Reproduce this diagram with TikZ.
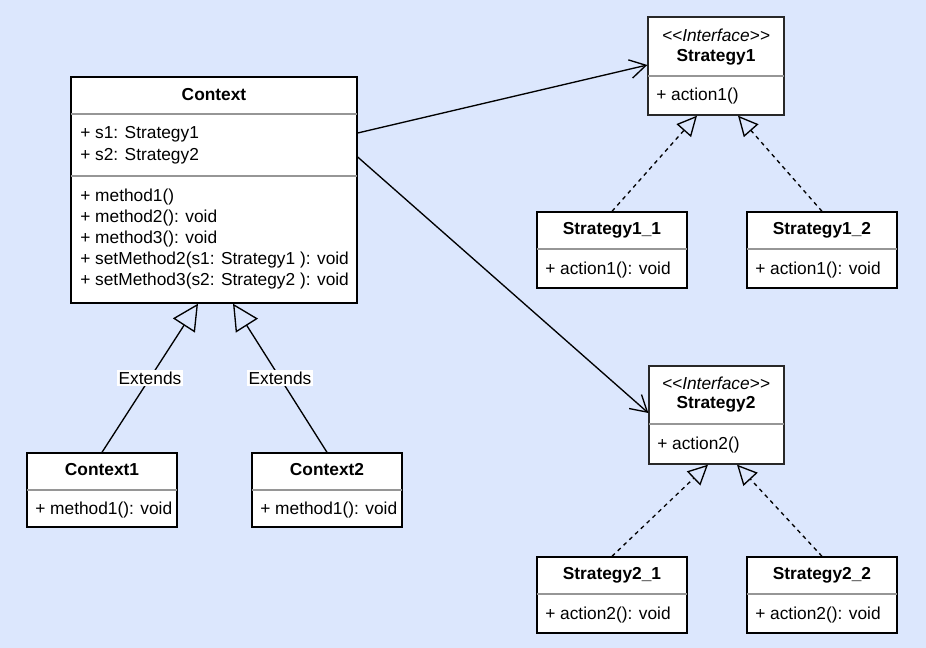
\documentclass[tikz,border=0pt]{standalone}
\usepackage{fontspec}
\setmainfont{Liberation Sans}
\usetikzlibrary{arrows.meta,fit}
\definecolor{bgblue}{RGB}{220,231,253}
\definecolor{divgray}{RGB}{150,150,150}
\definecolor{ifborder}{RGB}{40,40,40}
\begin{document}
\begin{tikzpicture}[x=0.75pt,y=-0.75pt,
  box/.style={draw=black, fill=white, line width=1pt, inner sep=0pt},
  ifbox/.style={box, draw=ifborder},
  div/.style={draw=divgray, line width=0.8pt},
  txt/.style={anchor=west, inner sep=0pt, font=\fontsize{13}{15}\selectfont},
  ttl/.style={inner sep=0pt, font=\fontsize{13}{15}\selectfont\bfseries},
  ster/.style={inner sep=0pt, font=\fontsize{13}{15}\selectfont\itshape},
  assoc/.style={draw=black, line width=1pt, -{Straight Barb[length=12pt,width=14pt,line width=1pt]}},
  gen/.style={draw=black, line width=1pt, -{Triangle[open,length=19.5pt,width=19.5pt,line width=1pt]}},
  real/.style={draw=black, line width=1pt, dash pattern=on 3pt off 3pt, -{Triangle[open,length=15pt,width=14.5pt,line width=1pt]}},
  lbl/.style={fill=white, inner sep=1pt, font=\fontsize{13}{15}\selectfont}
]
\useasboundingbox (0,0) rectangle (926,648);
\fill[bgblue] (0,0) rectangle (926,648);

% Context
\node[box, fit={(71,77) (357,303)}] (ctx) {};
\draw[div] (71,114) -- (357,114);
\draw[div] (71,176) -- (357,176);
\node[ttl] (ctxt) at (214,95) {Context};
\node[txt] (ctxa1) at (80,134) {+ s1: Strategy1};
\node[txt] (ctxa2) at (80,156) {+ s2: Strategy2};
\node[txt] (ctxm1) at (80,197) {+ method1()};
\node[txt] (ctxm2) at (80,218) {+ method2(): void};
\node[txt] (ctxm3) at (80,239) {+ method3(): void};
\node[txt] (ctxm4) at (80,260) {+ setMethod2(s1: Strategy1 ): void};
\node[txt] (ctxm5) at (80,281) {+ setMethod3(s2: Strategy2 ): void};

% Context1
\node[box, fit={(27,453) (177,527)}] (c1) {};
\draw[div] (27,490) -- (177,490);
\node[ttl] (c1t) at (102,470) {Context1};
\node[txt] (c1m) at (35,510) {+ method1(): void};

% Context2
\node[box, fit={(252,453) (402,527)}] (c2) {};
\draw[div] (252,490) -- (402,490);
\node[ttl] (c2t) at (327,470) {Context2};
\node[txt] (c2m) at (260,510) {+ method1(): void};

% Strategy1
\node[ifbox, fit={(648,17) (784,115)}] (s1) {};
\draw[div] (648,76) -- (784,76);
\node[ster] (s1s) at (716,35) {{<}{<}Interface{>}{>}};
\node[ttl] (s1t) at (716,57) {Strategy1};
\node[txt] (s1m) at (656,96) {+ action1()};

% Strategy1_1
\node[box, fit={(537,212) (687,288)}] (s11) {};
\draw[div] (537,249) -- (687,249);
\node[ttl] (s11t) at (612,230) {Strategy1\_1};
\node[txt] (s11m) at (545,270) {+ action1(): void};

% Strategy1_2
\node[box, fit={(747,212) (897,288)}] (s12) {};
\draw[div] (747,249) -- (897,249);
\node[ttl] (s12t) at (822,230) {Strategy1\_2};
\node[txt] (s12m) at (755,270) {+ action1(): void};

% Strategy2
\node[ifbox, fit={(649,366) (784,464)}] (s2) {};
\draw[div] (649,424) -- (784,424);
\node[ster] (s2s) at (716,383) {{<}{<}Interface{>}{>}};
\node[ttl] (s2t) at (716,404) {Strategy2};
\node[txt] (s2m) at (657,445) {+ action2()};

% Strategy2_1
\node[box, fit={(537,557) (687,633)}] (s21) {};
\draw[div] (537,594) -- (687,594);
\node[ttl] (s21t) at (612,575) {Strategy2\_1};
\node[txt] (s21m) at (545,615) {+ action2(): void};

% Strategy2_2
\node[box, fit={(747,557) (897,633)}] (s22) {};
\draw[div] (747,594) -- (897,594);
\node[ttl] (s22t) at (822,575) {Strategy2\_2};
\node[txt] (s22m) at (755,615) {+ action2(): void};

% associations
\draw[assoc] (ctx.east |- 0,133) -- (s1.west |- 0,65);
\draw[assoc] (ctx.east |- 0,157) -- (s2.west |- 0,413);

% generalizations
\draw[gen] (c1.north -| 102,0) -- node[lbl] (e1) {Extends} (ctx.south -| 198,0);
\draw[gen] (c2.north -| 327,0) -- node[lbl] (e2) {Extends} (ctx.south -| 233,0);

% realizations
\draw[real] (s11.north -| 612,0) -- (s1.south -| 697,0);
\draw[real] (s12.north -| 822,0) -- (s1.south -| 738,0);
\draw[real] (s21.north -| 612,0) -- (s2.south -| 708,0);
\draw[real] (s22.north -| 822,0) -- (s2.south -| 737,0);
\end{tikzpicture}
\end{document}
